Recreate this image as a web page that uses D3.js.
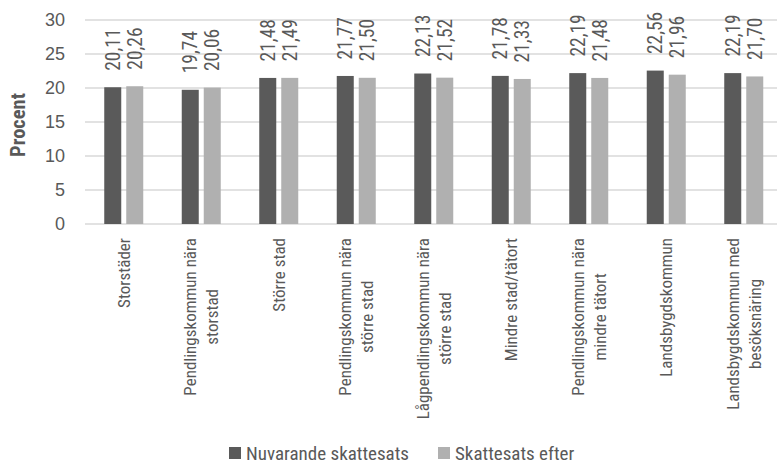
<!DOCTYPE html>
<html><head><meta charset="utf-8">
<script src="https://cdn.jsdelivr.net/npm/d3@7"></script>
<style>
html,body{margin:0;padding:0;background:#fff;}
svg{display:block;font-family:"Liberation Sans Narrow","Roboto Condensed","DejaVu Sans Condensed","Arial Narrow",sans-serif;}
</style></head>
<body>
<svg id="c" width="777" height="465"></svg>
<script>
const categories = [
  ["Storstäder"],
  ["Pendlingskommun nära","storstad"],
  ["Större stad"],
  ["Pendlingskommun nära","större stad"],
  ["Lågpendlingskommun nära","större stad"],
  ["Mindre stad/tätort"],
  ["Pendlingskommun nära","mindre tätort"],
  ["Landsbygdskommun"],
  ["Landsbygdskommun med","besöksnäring"]
];
const seriesNames = ["Nuvarande skattesats","Skattesats efter"];
const nuvarande = [20.11,19.74,21.48,21.77,22.13,21.78,22.19,22.56,22.19];
const efter     = [20.26,20.06,21.49,21.50,21.52,21.33,21.48,21.96,21.70];
const yTicks = [0,5,10,15,20,25,30];
const yTitle = "Procent";

const colors = ["#5a5a5a","#b0b0b0"];
const textColor = "#595959";
const svg = d3.select("#c");
const pL = 85, pR = 782.5, pT = 20, pB = 224;
const catKeys = categories.map((c,i)=>i);
const x0 = d3.scaleBand().domain(catKeys).range([pL,pR]).padding(0);
const y = d3.scaleLinear().domain([0,30]).range([pB,pT]);
const fmt = v => v.toFixed(2).replace(".",",");

// gridlines
svg.append("g").selectAll("line").data(yTicks).join("line")
  .attr("x1",pL).attr("x2",777).attr("y1",d=>y(d)).attr("y2",d=>y(d))
  .attr("stroke","#d9d9d9").attr("stroke-width",1.5);

// y axis labels
const ya = svg.append("g").attr("transform",`translate(${pL},0)`)
  .call(d3.axisLeft(y).tickValues(yTicks).tickSize(0).tickPadding(20).tickFormat(d3.format("d")));
ya.select(".domain").remove();
ya.selectAll("text").attr("fill",textColor).style("font-size","18px").style("font-family","inherit");

// y title
svg.append("text").attr("transform",`translate(18,125) rotate(-90)`)
  .attr("text-anchor","middle").attr("dy","0.35em").attr("fill",textColor)
  .style("font-size","20.5px").style("font-weight","bold").text(yTitle);

const data = catKeys.map(i=>({i, vals:[nuvarande[i],efter[i]]}));
const groups = svg.append("g").selectAll("g").data(data).join("g");
const catFs = 17, lh = 22;
groups.each(function(d){
  const g = d3.select(this);
  const c = x0(d.i)+x0.bandwidth()/2;
  const x1 = d3.scaleBand().domain([0,1]).range([c-19.5,c+19.5]).paddingInner(5/22);
  d.vals.forEach((v,k)=>{
    g.append("rect").attr("x",x1(k)).attr("width",x1.bandwidth())
      .attr("y",y(v)).attr("height",y(0)-y(v)).attr("fill",colors[k]);
    const cx = x1(k)+x1.bandwidth()/2;
    g.append("text").attr("transform",`translate(${cx},${y(v)-16.5}) rotate(-90)`)
      .attr("dy","0.35em").attr("fill",textColor).style("font-size","19.5px").text(fmt(v));
  });
  // category label
  const lines = categories[d.i];
  const widths = lines.map(l=>{const t=g.append("text").style("font-size",catFs+"px").text(l);const w=t.node().getComputedTextLength();t.remove();return w;});
  const maxW = d3.max(widths);
  lines.forEach((l,j)=>{
    const off = (j-(lines.length-1)/2)*lh;
    g.append("text").attr("transform",`translate(${c+off},${238+maxW/2}) rotate(-90)`)
      .attr("text-anchor","middle").attr("dy","0.35em").attr("fill",textColor)
      .style("font-size",catFs+"px").text(l);
  });
});

// legend
const leg = svg.append("g");
const legX = [229,438];
seriesNames.forEach((n,k)=>{
  leg.append("rect").attr("x",legX[k]).attr("y",447).attr("width",12).attr("height",12).attr("fill",colors[k]);
  leg.append("text").attr("x",legX[k]+17).attr("y",453).attr("dy","0.35em").attr("fill",textColor)
    .style("font-size","19px").text(n);
});
</script>
</body></html>
